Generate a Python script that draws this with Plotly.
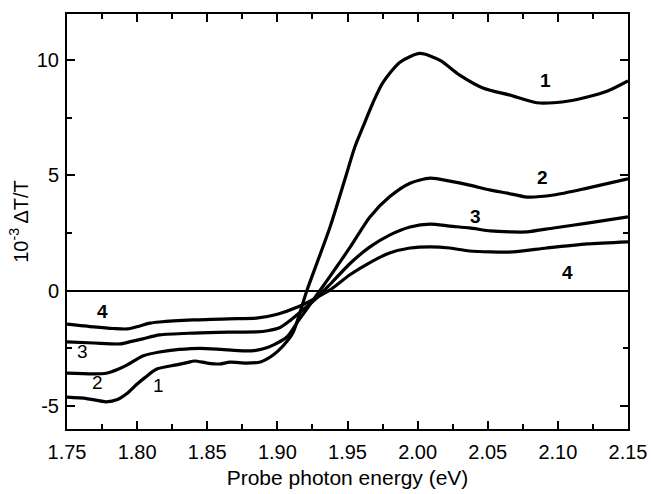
import plotly.graph_objects as go

# ---- data ----
x1 = [1.75, 1.764, 1.778, 1.786, 1.793, 1.80, 1.806, 1.814, 1.828, 1.8356, 1.841, 1.85, 1.859,
      1.866, 1.878, 1.888, 1.897, 1.904, 1.911, 1.921, 1.9375, 1.948, 1.955, 1.961, 1.968, 1.975,
      1.9874, 2.0017, 2.016, 2.030, 2.047, 2.066, 2.085, 2.097, 2.11, 2.121, 2.135, 2.15]
y1 = [-4.62, -4.68, -4.82, -4.72, -4.45, -4.05, -3.75, -3.40, -3.22, -3.12, -3.05, -3.14, -3.18,
      -3.10, -3.14, -3.09, -2.79, -2.4, -1.84, 0.0, 2.75, 4.8, 6.19, 7.1, 8.13, 9.0,
      9.91, 10.29, 9.99, 9.35, 8.78, 8.48, 8.15, 8.15, 8.25, 8.4, 8.65, 9.1]

x2 = [1.75, 1.769, 1.778, 1.786, 1.793, 1.804, 1.816, 1.83, 1.845, 1.86, 1.872, 1.883, 1.89,
      1.897, 1.907, 1.915, 1.925, 1.935, 1.952, 1.966, 1.98, 1.9946, 2.009, 2.023, 2.037,
      2.052, 2.064, 2.078, 2.097, 2.121, 2.15]
y2 = [-3.58, -3.61, -3.58, -3.42, -3.22, -2.83, -2.66, -2.55, -2.5, -2.55, -2.6, -2.6, -2.52,
      -2.36, -2.0, -1.3, -0.45, 0.4, 1.9, 3.2, 4.07, 4.66, 4.88, 4.75, 4.58,
      4.36, 4.23, 4.06, 4.15, 4.45, 4.85]

x3 = [1.75, 1.769, 1.788, 1.796, 1.804, 1.816, 1.84, 1.865, 1.885, 1.893, 1.902, 1.909, 1.916,
      1.928, 1.938, 1.952, 1.966, 1.98, 1.9946, 2.009, 2.023, 2.037, 2.052, 2.066, 2.078,
      2.097, 2.121, 2.15]
y3 = [-2.22, -2.27, -2.31, -2.2, -2.09, -1.92, -1.84, -1.8, -1.79, -1.74, -1.6, -1.3, -0.95,
      -0.32, 0.3, 1.19, 1.9, 2.41, 2.76, 2.89, 2.8, 2.72, 2.59, 2.55, 2.55,
      2.72, 2.93, 3.2]

x4 = [1.75, 1.769, 1.783, 1.793, 1.802, 1.809, 1.816, 1.84, 1.865, 1.885, 1.90, 1.914, 1.928,
      1.938, 1.952, 1.966, 1.98, 1.9946, 2.009, 2.023, 2.037, 2.052, 2.068, 2.092, 2.121, 2.15]
y4 = [-1.45, -1.57, -1.64, -1.66, -1.53, -1.41, -1.36, -1.27, -1.22, -1.19, -1.02, -0.72, -0.3,
      0.05, 0.7, 1.22, 1.63, 1.85, 1.9, 1.85, 1.72, 1.68, 1.68, 1.85, 2.03, 2.12]

series = [(x1, y1), (x2, y2), (x3, y3), (x4, y4)]

x_tickvals = [1.75, 1.80, 1.85, 1.90, 1.95, 2.00, 2.05, 2.10, 2.15]
x_ticktext = ["1.75", "1.80", "1.85", "1.90", "1.95", "2.00", "2.05", "2.10", "2.15"]
y_tickvals = [-5, 0, 5, 10]
y_ticktext = ["-5", "0", "5", "10"]

# curve labels: (text, x, y, bold)
labels = [
    ("1", 2.091, 9.1, True), ("2", 2.089, 4.9, True), ("3", 2.041, 3.2, True), ("4", 2.107, 0.8, True),
    ("4", 1.775, -0.9, True), ("3", 1.761, -2.65, False), ("2", 1.772, -4.0, False), ("1", 1.815, -4.1, False),
]

FONT = "Liberation Sans, Arial, sans-serif"

fig = go.Figure()
for xs, ys in series:
    fig.add_trace(go.Scatter(x=xs, y=ys, mode="lines",
                             line=dict(color="black", width=3.2, shape="spline", smoothing=0.7),
                             showlegend=False, hoverinfo="skip"))

for txt, lx, ly, bold in labels:
    fig.add_annotation(x=lx, y=ly, text=f"<b>{txt}</b>" if bold else txt, showarrow=False,
                       font=dict(family=FONT, size=19, color="black"))

fig.update_layout(
    width=651, height=494,
    margin=dict(l=67, r=23, t=14, b=65),
    paper_bgcolor="white", plot_bgcolor="white",
    font=dict(family=FONT, color="black"),
)
fig.update_xaxes(
    range=[1.75, 2.15], tickvals=x_tickvals, ticktext=x_ticktext, automargin=False,
    showline=True, linecolor="black", linewidth=2, mirror="ticks",
    ticks="inside", ticklen=8, tickwidth=2, tickcolor="black",
    minor=dict(dtick=0.025, tick0=1.75, ticks="inside", ticklen=5, tickwidth=2, tickcolor="black"),
    showgrid=False, zeroline=False, ticklabelstandoff=4,
    tickfont=dict(size=20, family=FONT),
    title=dict(text="Probe photon energy (eV)", font=dict(size=21, family=FONT), standoff=8),
)
fig.update_yaxes(
    range=[-6, 12], tickvals=y_tickvals, ticktext=y_ticktext, automargin=False,
    showline=True, linecolor="black", linewidth=2, mirror="ticks",
    ticks="inside", ticklen=8, tickwidth=2, tickcolor="black",
    minor=dict(dtick=2.5, tick0=0, ticks="inside", ticklen=5, tickwidth=2, tickcolor="black"),
    showgrid=False, zeroline=True, zerolinecolor="black", zerolinewidth=1.7,
    tickfont=dict(size=20, family=FONT), ticklabelstandoff=2,
    title=dict(text="10<sup>-3</sup> ΔT/T", font=dict(size=20, family=FONT), standoff=3),
)

fig.write_html("out.html")
